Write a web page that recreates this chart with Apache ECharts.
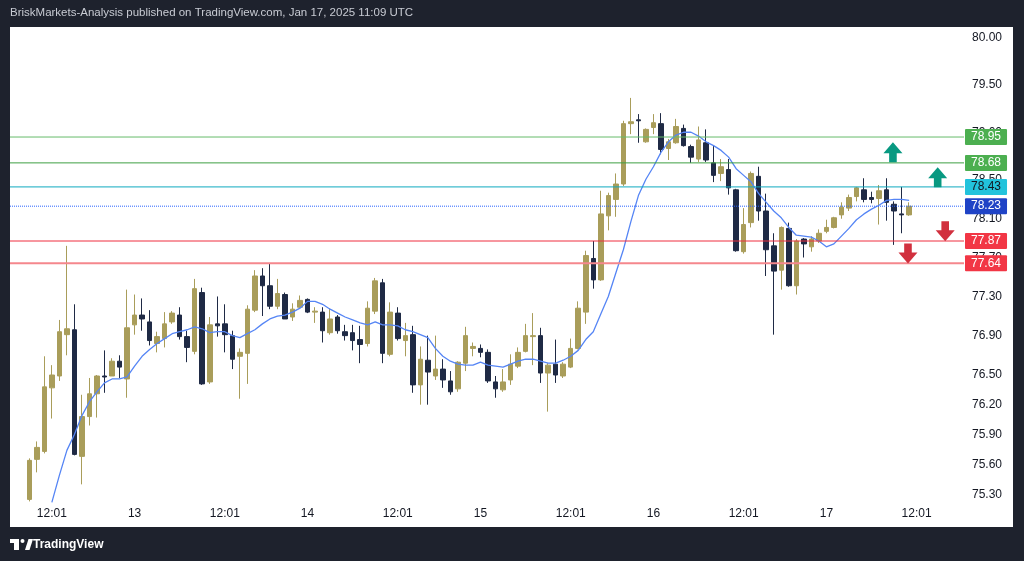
<!DOCTYPE html>
<html><head><meta charset="utf-8">
<script src="https://cdn.jsdelivr.net/npm/echarts@6/dist/echarts.min.js"></script>
<style>
html,body{margin:0;padding:0;background:#1e222d;width:1024px;height:561px;overflow:hidden;}
#panel{position:absolute;left:10px;top:27px;width:1003px;height:500px;background:#ffffff;}
#c{position:absolute;left:0;top:0;width:1024px;height:561px;}
</style>
</head><body><div id="panel"></div><div id="c"></div>
<script>
// ---- data (hourly candles, Jan 12 09:00 -> Jan 17 11:00) ----
const opens = [75.25,75.65,75.73,76.37,76.49,76.91,76.96,75.68,76.08,76.31,76.49,76.49,76.64,76.46,77.01,77.11,77.04,76.82,76.87,77.04,
77.11,76.89,76.74,77.34,76.43,77.02,77.02,76.90,76.69,76.72,77.16,77.51,77.41,77.20,77.32,77.09,77.19,77.27,77.14,77.14,
76.93,77.09,76.94,76.93,76.86,76.82,77.15,77.44,76.71,77.13,76.85,76.91,76.40,76.65,76.49,76.56,76.44,76.36,76.62,76.77,
76.77,76.73,76.43,76.35,76.45,76.59,76.74,76.89,76.90,76.52,76.61,76.49,76.58,76.77,77.14,77.69,77.47,78.13,78.30,78.46,
79.09,79.13,78.90,79.05,79.09,78.83,78.89,79.04,78.85,78.72,78.89,78.68,78.57,78.61,78.40,77.76,78.06,78.54,78.18,77.82,
77.57,78.00,77.41,77.89,77.81,77.87,77.97,78.01,78.14,78.21,78.33,78.40,78.32,78.31,78.40,78.25,78.15,78.14];
const closes = [75.64,75.77,76.38,76.50,76.94,76.97,75.70,76.08,76.31,76.49,76.48,76.64,76.58,76.98,77.11,77.07,76.85,76.89,77.02,77.13,
76.89,76.78,77.38,76.41,77.01,77.00,76.91,76.66,76.73,77.17,77.51,77.41,77.20,77.33,77.07,77.17,77.26,77.14,77.15,76.95,
77.07,76.95,76.90,76.85,76.81,77.18,77.46,76.72,77.14,76.87,76.90,76.40,76.66,76.53,76.56,76.45,76.33,76.63,76.90,76.79,
76.73,76.44,76.36,76.43,76.61,76.73,76.90,76.90,76.52,76.60,76.50,76.61,76.77,77.18,77.72,77.47,78.15,78.34,78.46,79.09,
79.11,79.12,79.03,79.10,78.82,78.90,79.06,78.86,78.74,78.92,78.71,78.55,78.64,78.42,77.77,78.04,78.57,78.18,77.78,77.56,
78.01,77.41,77.87,77.84,77.89,77.95,78.01,78.11,78.22,78.32,78.42,78.30,78.30,78.39,78.27,78.18,78.14,78.23];
const lows = [75.23,75.52,75.71,76.06,76.44,76.70,75.69,75.40,75.99,76.07,76.32,76.49,76.47,76.27,76.91,76.95,76.80,76.73,76.78,77.02,
76.86,76.63,76.71,76.40,76.41,76.89,76.73,76.56,76.26,76.41,77.14,77.10,77.17,77.17,77.07,77.05,77.18,77.13,77.03,76.83,
76.91,76.92,76.85,76.75,76.62,76.79,77.12,76.62,76.69,76.85,76.69,76.32,76.20,76.20,76.45,76.37,76.30,76.33,76.54,76.69,
76.68,76.42,76.27,76.33,76.40,76.57,76.73,76.60,76.42,76.13,76.42,76.47,76.57,76.76,77.02,77.38,77.46,77.98,78.12,78.44,
78.98,78.89,78.89,78.98,78.77,78.71,78.88,78.85,78.68,78.69,78.69,78.48,78.49,78.35,77.76,77.74,78.01,78.08,77.51,76.91,
77.37,77.40,77.32,77.70,77.76,77.85,77.95,78.00,78.10,78.18,78.28,78.27,78.26,78.04,78.08,77.83,77.95,78.13];
const highs = [75.66,75.83,76.69,76.60,77.06,77.82,77.22,76.30,76.47,76.50,76.75,76.67,76.70,77.37,77.32,77.28,77.16,76.94,77.14,77.15,
77.19,76.95,77.48,77.39,77.09,77.30,77.22,76.95,76.77,77.21,77.57,77.59,77.64,77.48,77.34,77.23,77.31,77.28,77.19,77.19,
77.18,77.11,77.01,77.01,77.00,77.25,77.49,77.48,77.24,77.19,77.03,77.00,76.79,76.90,76.90,76.66,76.54,76.64,76.99,76.83,
76.81,76.76,76.49,76.56,76.71,76.78,77.02,77.13,76.98,76.62,76.86,76.63,76.87,77.25,77.77,77.87,78.39,78.37,78.57,79.12,
79.36,79.19,79.04,79.19,79.20,78.93,79.14,79.08,78.87,79.06,79.03,78.86,78.72,78.72,78.41,78.21,78.59,78.64,78.36,77.95,
78.02,78.06,77.89,77.90,77.92,77.99,78.09,78.12,78.27,78.35,78.43,78.52,78.38,78.45,78.52,78.28,78.43,78.27];
// moving average (blue line), starting at candle index maStart
const maStart = 3;
const maValues = [75.22,75.49,75.74,75.90,76.09,76.23,76.33,76.42,76.46,76.46,
76.48,76.59,76.69,76.76,76.82,76.87,76.92,76.94,76.96,76.99,
76.97,76.93,76.94,76.94,76.90,76.88,76.92,76.96,77.02,77.07,
77.10,77.11,77.14,77.18,77.25,77.25,77.22,77.17,77.13,77.09,
77.06,77.03,77.01,77.04,77.01,77.01,77.00,76.96,76.94,76.91,
76.88,76.77,76.69,76.64,76.61,76.60,76.60,76.63,76.60,76.59,
76.58,76.61,76.64,76.66,76.66,76.64,76.62,76.62,76.65,76.69,
76.75,76.86,76.94,77.12,77.30,77.54,77.78,78.07,78.34,78.51,
78.64,78.79,78.90,78.97,79.00,79.00,78.96,78.90,78.86,78.81,
78.74,78.62,78.55,78.48,78.36,78.27,78.18,78.11,78.01,77.93,
77.92,77.91,77.87,77.81,77.84,77.92,78.00,78.09,78.15,78.20,
78.24,78.29,78.30,78.30,78.29];
// horizontal levels
const levelValues = [78.95, 78.68, 78.43, 78.23, 77.87, 77.64];
// arrows [candle index, price]
const arrowsUp = [[114.85, 78.79], [120.8, 78.53]];
const arrowsDown = [[121.8, 77.97], [116.85, 77.74]];
// axis ticks
const xTickIdx = [3, 14, 26, 37, 49, 60, 72, 83, 95, 106, 118];
const xTickLabels = ['12:01','13','12:01','14','12:01','15','12:01','16','12:01','17','12:01'];
const yTickValues = [75.30,75.60,75.90,76.20,76.50,76.90,77.30,77.70,78.10,78.50,79.00,79.50,80.00];

// ---- styles / layout ----
const FONT = '"Liberation Sans", Arial, sans-serif';
const X_MIN = -2.566, X_MAX = 124.3;
const levelStyles = [
  {line:'#66bb6a', bg:'#4caf50', text:'#ffffff', type:'solid', w:1},
  {line:'#3d9f42', bg:'#4caf50', text:'#ffffff', type:'solid', w:1},
  {line:'#0fa9bf', bg:'#22c3dc', text:'#131722', type:'solid', w:1},
  {line:'#2962ff', bg:'#1f43c6', text:'#ffffff', type:'dotted', w:1},
  {line:'#ef2f3e', bg:'#f23645', text:'#ffffff', type:'solid', w:1},
  {line:'#f5878d', bg:'#f23645', text:'#ffffff', type:'solid', w:2}
];
const UP_PATH = 'path://M10,0 L20,11 L14,11 L14,20 L6,20 L6,11 L0,11 Z';
const DOWN_PATH = 'path://M6,0 L14,0 L14,9 L20,9 L10,20 L0,9 L6,9 Z';

const candleData = opens.map((o, i) => [i, o, closes[i], lows[i], highs[i]]);
const maData = maValues.map((v, i) => [maStart + i, v]);

// level lines as their own line series, with the price tag as end label
const levelSeries = levelValues.map((v, i) => {
  const s = levelStyles[i];
  return {
    type: 'line', silent: true, z: 4, showSymbol: false, symbol: 'none', clip: false,
    data: [[X_MIN, v], [X_MAX, v]],
    lineStyle: {color: s.line, type: s.type, width: s.w},
    endLabel: {
      show: true, distance: 1, formatter: () => v.toFixed(2),
      backgroundColor: s.bg, color: s.text, fontSize: 12, fontFamily: FONT,
      padding: [2, 6, 1, 6], lineHeight: 13, borderRadius: 1
    }
  };
});
const markPointData = arrowsUp.map(p => ({coord: p, symbol: UP_PATH, itemStyle: {color: '#089981'}}))
  .concat(arrowsDown.map(p => ({coord: p, symbol: DOWN_PATH, itemStyle: {color: '#d1303e'}})));

const chart = echarts.init(document.getElementById('c'));
chart.setOption({
  animation: false,
  backgroundColor: 'transparent',
  textStyle: {fontFamily: FONT},
  grid: {left: 10, right: 60, top: 27, bottom: 58, containLabel: false},
  xAxis: {
    type: 'value', min: X_MIN, max: X_MAX,
    axisLine: {show: false}, axisTick: {show: false}, splitLine: {show: false},
    axisLabel: {
      customValues: xTickIdx,
      formatter: v => { const k = xTickIdx.indexOf(Math.round(v)); return k >= 0 ? xTickLabels[k] : ''; },
      color: '#131722', fontSize: 12, margin: 5, fontFamily: FONT
    }
  },
  yAxis: {
    type: 'log', position: 'right', min: 75.214, max: 80.109,
    axisLine: {show: false}, axisTick: {show: false}, splitLine: {show: false},
    minorTick: {show: false}, minorSplitLine: {show: false},
    axisLabel: {
      customValues: yTickValues,
      formatter: v => Number(v).toFixed(2),
      color: '#131722', fontSize: 12, margin: 8, fontFamily: FONT
    }
  },
  graphic: [
    {type: 'text', left: 10, top: 7, style: {text: 'BriskMarkets-Analysis published on TradingView.com, Jan 17, 2025 11:09 UTC', fill: '#c8cbd3', font: '11.5px ' + FONT}},
    {type: 'group', left: 10, top: 539, children: [
      {type: 'rect', shape: {x: 0, y: 0, width: 9, height: 4}, style: {fill: '#ffffff'}},
      {type: 'rect', shape: {x: 4, y: 0, width: 5, height: 11}, style: {fill: '#ffffff'}},
      {type: 'circle', shape: {cx: 12.5, cy: 2, r: 2}, style: {fill: '#ffffff'}},
      {type: 'polygon', shape: {points: [[15, 11], [18.5, 0], [23, 0], [19.5, 11]]}, style: {fill: '#ffffff'}}
    ]},
    {type: 'text', left: 33, top: 539, style: {text: 'TradingView', fill: '#ffffff', font: 'bold 12px ' + FONT}}
  ],
  series: [
    {
      type: 'candlestick',
      data: candleData,
      encode: {x: 0, y: [1, 2, 3, 4]},
      barWidth: 5,
      clip: true,
      z: 2,
      itemStyle: {color: '#a99d5a', color0: '#1f2a45', borderColor: '#a99d5a', borderColor0: '#1f2a45', borderWidth: 1},
      markPoint: {
        silent: true, symbolSize: [19, 20], label: {show: false}, animation: false,
        data: markPointData
      }
    },
    {
      type: 'line', data: maData, showSymbol: false, smooth: false, z: 3,
      lineStyle: {color: '#5585f5', width: 1.3}, clip: true
    }
  ].concat(levelSeries)
});
</script>
</body></html>
